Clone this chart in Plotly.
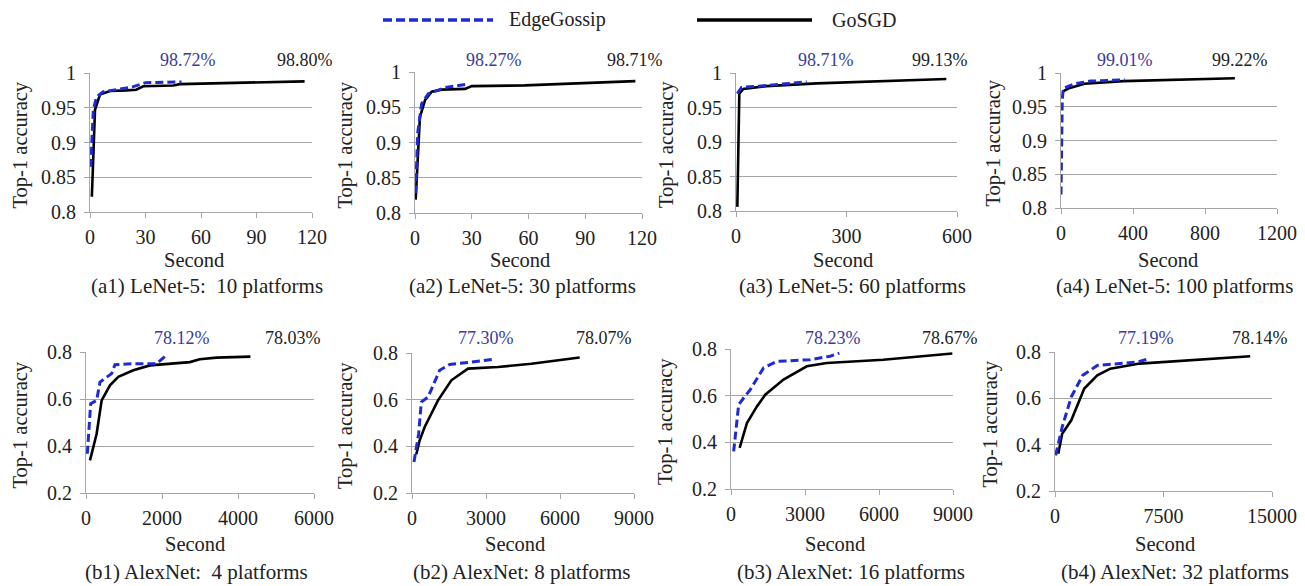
import plotly.graph_objects as go
from plotly.subplots import make_subplots

# ---------------- data ----------------
titles = ["(a1) LeNet-5:\u00a0 10 platforms", "(a2) LeNet-5: 30 platforms",
          "(a3) LeNet-5: 60 platforms", "(a4) LeNet-5: 100 platforms",
          "(b1) AlexNet:\u00a0 4 platforms", "(b2) AlexNet: 8 platforms",
          "(b3) AlexNet: 16 platforms", "(b4) AlexNet: 32 platforms"]
edge_labels = ["98.72%", "98.27%", "98.71%", "99.01%", "78.12%", "77.30%", "78.23%", "77.19%"]
go_labels = ["98.80%", "98.71%", "99.13%", "99.22%", "78.03%", "78.07%", "78.67%", "78.14%"]

a1_edge_x = [0.4, 1.8, 3.6, 7.2, 23, 30, 49.5]
a1_edge_y = [0.865, 0.947, 0.966, 0.973, 0.980, 0.986, 0.9872]
a1_go_x = [1, 2.7, 5.4, 10.8, 19.8, 25, 28.8, 45, 48.6, 116]
a1_go_y = [0.822, 0.947, 0.969, 0.974, 0.975, 0.976, 0.981, 0.982, 0.984, 0.988]

a2_edge_x = [0.35, 1.4, 3.5, 7, 16, 28]
a2_edge_y = [0.828, 0.913, 0.955, 0.969, 0.978, 0.9827]
a2_go_x = [0.35, 1.8, 2.6, 5.3, 8.8, 14, 26.5, 30, 58, 116.5]
a2_go_y = [0.819, 0.894, 0.936, 0.960, 0.972, 0.975, 0.976, 0.980, 0.981, 0.9871]

a3_edge_x = [3.6, 15, 83, 192]
a3_edge_y = [0.970, 0.979, 0.982, 0.9871]
a3_go_x = [3.6, 6.3, 9, 20, 83, 219, 400, 571]
a3_go_y = [0.806, 0.936, 0.970, 0.977, 0.981, 0.985, 0.988, 0.9913]

a4_edge_x = [0, 7, 12.6, 75, 165, 354]
a4_edge_y = [0.820, 0.960, 0.977, 0.984, 0.988, 0.9901]
a4_go_x = [7, 40, 130, 345, 966]
a4_go_y = [0.972, 0.977, 0.984, 0.988, 0.9922]

b1_edge_x = [35, 123, 280, 368, 674, 762, 1244, 1857, 2080]
b1_edge_y = [0.367, 0.580, 0.594, 0.672, 0.708, 0.746, 0.750, 0.750, 0.7812]
b1_go_x = [105, 280, 412, 631, 850, 1244, 1682, 2733, 2995, 3434, 4327]
b1_go_y = [0.339, 0.452, 0.594, 0.658, 0.694, 0.722, 0.743, 0.757, 0.769, 0.776, 0.7803]

b2_edge_x = [81, 270, 378, 649, 1122, 1527, 2405, 3284]
b2_edge_y = [0.333, 0.454, 0.590, 0.611, 0.726, 0.751, 0.761, 0.773]
b2_go_x = [176, 311, 514, 1054, 1595, 2270, 3486, 4838, 6797]
b2_go_y = [0.366, 0.426, 0.483, 0.597, 0.683, 0.733, 0.740, 0.754, 0.7807]

b3_edge_x = [108, 310, 512, 781, 1320, 1859, 3207, 4015, 4392]
b3_edge_y = [0.361, 0.561, 0.590, 0.626, 0.719, 0.747, 0.754, 0.769, 0.7823]
b3_go_x = [350, 647, 1051, 1388, 2129, 3072, 3880, 6171, 8973]
b3_go_y = [0.376, 0.483, 0.554, 0.604, 0.669, 0.726, 0.740, 0.754, 0.781]

b4_edge_x = [45, 495, 1124, 1912, 2923, 4498, 5735, 6567]
b4_edge_y = [0.354, 0.476, 0.606, 0.699, 0.742, 0.750, 0.757, 0.772]
b4_go_x = [225, 495, 1124, 2024, 2923, 3823, 5847, 9220, 13493]
b4_go_y = [0.361, 0.447, 0.505, 0.642, 0.699, 0.728, 0.750, 0.764, 0.7814]

x_ranges = [[0, 120], [0, 120], [0, 600], [0, 1200], [0, 6000], [0, 9000], [0, 9000], [0, 15000]]
x_dticks = [30, 30, 300, 400, 2000, 3000, 3000, 7500]

edge_x = [a1_edge_x, a2_edge_x, a3_edge_x, a4_edge_x, b1_edge_x, b2_edge_x, b3_edge_x, b4_edge_x]
edge_y = [a1_edge_y, a2_edge_y, a3_edge_y, a4_edge_y, b1_edge_y, b2_edge_y, b3_edge_y, b4_edge_y]
go_x = [a1_go_x, a2_go_x, a3_go_x, a4_go_x, b1_go_x, b2_go_x, b3_go_x, b4_go_x]
go_y = [a1_go_y, a2_go_y, a3_go_y, a4_go_y, b1_go_y, b2_go_y, b3_go_y, b4_go_y]

# ---------------- layout geometry (screen pixels) ----------------
OFF = 8                      # default page body margin
W, H = 1305 - 2 * OFF, 586 - OFF
def PX(p):
    return (p - OFF) / W
def PY(p):
    return 1 - (p - OFF) / H

plot_lr = [(90, 312), (415, 642), (736, 957), (1061, 1277),
           (86, 314), (412, 634), (731, 953), (1055, 1272)]
plot_tb = [(73, 212), (72, 213), (73, 211), (73, 208),
           (352, 493), (353, 493), (349, 489), (352, 491)]
edge_lbl_px = [188, 494, 826, 1125, 182, 486, 833, 1146]
go_lbl_px = [305, 635, 940, 1240, 293, 604, 950, 1260]
ytitle_px = [20, 345, 667, 993, 20, 345, 665, 990]
second_px = [194, 520, 843, 1168, 195, 515, 835, 1165]
caption_px = [207, 522, 852, 1174, 196, 522, 851, 1175]

FONT = "Liberation Serif, Times New Roman, DejaVu Serif, serif"
BLUE = "#1f2bd0"
BLUE_TXT = "#3b3b9c"
TXT = "#222222"
GRID = "#a6a6a6"

fig = make_subplots(rows=2, cols=4)

def txt(text, x, y, size, color=TXT, angle=0, xanchor="center"):
    return dict(text=text, xref="paper", x=PX(x), xanchor=xanchor,
                yref="paper", y=PY(y), yanchor="middle", showarrow=False, textangle=angle,
                font=dict(family=FONT, size=size, color=color))

annotations = []
for i in range(8):
    r, c = i // 4 + 1, i % 4 + 1
    fig.add_trace(go.Scatter(x=go_x[i], y=go_y[i], mode="lines", name="GoSGD",
                             line=dict(color="black", width=2.6), showlegend=False),
                  row=r, col=c)
    fig.add_trace(go.Scatter(x=edge_x[i], y=edge_y[i], mode="lines", name="EdgeGossip",
                             line=dict(color=BLUE, width=3, dash="8px,4px"), showlegend=False),
                  row=r, col=c)
    n = "" if i == 0 else str(i + 1)
    l, rr = plot_lr[i]
    t, b = plot_tb[i]
    fig.layout["xaxis" + n].update(
        domain=[PX(l), PX(rr)], range=x_ranges[i], dtick=x_dticks[i], tick0=0,
        automargin=False,
        showgrid=False, zeroline=False, showline=True, linecolor=GRID, linewidth=1.2,
        ticks="outside", ticklen=5, tickcolor=GRID, tickformat="d", ticklabelstandoff=2,
        tickfont=dict(family=FONT, size=20, color=TXT))
    if i < 4:
        yr, ydt = [0.8, 1.0], 0.05
    else:
        yr, ydt = [0.2, 0.8], 0.2
    fig.layout["yaxis" + n].update(
        domain=[PY(b), PY(t)], range=yr, dtick=ydt, tick0=yr[0],
        automargin=False,
        showgrid=True, gridcolor=GRID, gridwidth=1.2, zeroline=False,
        showline=True, linecolor=GRID, linewidth=1.2,
        ticks="outside", ticklen=5, tickcolor=GRID, ticklabelstandoff=4,
        tickfont=dict(family=FONT, size=20, color=TXT))

    lbl_y = 60 if i < 4 else 338
    annotations.append(txt(edge_labels[i], edge_lbl_px[i], lbl_y, 18, BLUE_TXT))
    annotations.append(txt(go_labels[i], go_lbl_px[i], lbl_y, 18))
    annotations.append(txt("Top-1 accuracy", ytitle_px[i], (t + b) / 2 + 3, 20.5, angle=-90))
    annotations.append(txt("Second", second_px[i], 260 if i < 4 else 544, 20.5))
    annotations.append(txt(titles[i], caption_px[i], 286 if i < 4 else 572, 21))

# custom legend
annotations.append(txt("EdgeGossip", 507, 20, 20, xanchor="left"))
annotations.append(txt("GoSGD", 830, 20, 20, xanchor="left"))
shapes = [
    dict(type="line", xref="paper", yref="paper", x0=PX(383), x1=PX(493), y0=PY(20), y1=PY(20),
         line=dict(color=BLUE, width=3.5, dash="9px,4px")),
    dict(type="line", xref="paper", yref="paper", x0=PX(697), x1=PX(812), y0=PY(20), y1=PY(20),
         line=dict(color="black", width=3.5)),
]

fig.update_layout(template="none", width=W, height=H, margin=dict(l=0, r=0, t=0, b=0),
                  paper_bgcolor="white", plot_bgcolor="white",
                  annotations=annotations, shapes=shapes, showlegend=False,
                  font=dict(family=FONT, color=TXT))

fig.write_html("out.html")
